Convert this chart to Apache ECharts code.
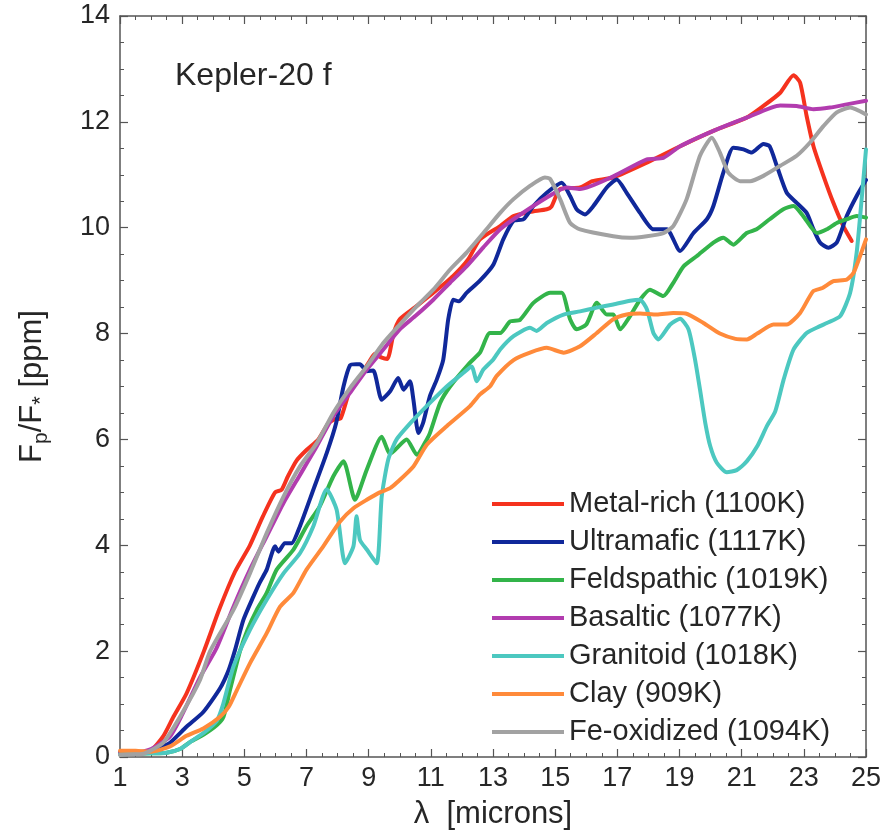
<!DOCTYPE html>
<html>
<head>
<meta charset="utf-8">
<script src="https://cdn.jsdelivr.net/npm/echarts@6/dist/echarts.min.js"></script>
<style>
  html, body { margin: 0; padding: 0; background: #fff; }
  #chart { width: 884px; height: 836px; }
</style>
</head>
<body>
<div id="chart"></div>
<script>
// Planet-to-star flux contrast spectra for Kepler-20 f, one [wavelength (µm), Fp/F* (ppm)] list per surface type
const seriesNames = [
  'Metal-rich (1100K)', 'Ultramafic (1117K)', 'Feldspathic (1019K)', 'Basaltic (1077K)',
  'Granitoid (1018K)', 'Clay (909K)', 'Fe-oxidized (1094K)'
];
const seriesColors = ['#f5321e', '#10289a', '#33b44a', '#b23caf', '#4cc8c0', '#ff8a3a', '#a2a2a2'];

const metalRich = [[1.0,0.08],[1.5,0.08],[2.0,0.13],[2.4,0.4],[2.72,0.76],[3.14,1.2],[3.7,2.0],[4.2,2.8],[4.7,3.5],[5.18,4.0],[5.6,4.55],[5.99,5.0],[6.2,5.05],[6.4,5.3],[6.68,5.6],[7.0,5.8],[7.38,6.0],[7.7,6.3],[7.9,6.38],[8.1,6.4],[8.4,6.94],[8.67,7.13],[9.0,7.45],[9.2,7.62],[9.4,7.55],[9.6,7.52],[9.8,8.0],[10.0,8.27],[10.5,8.5],[11.08,8.77],[11.72,9.09],[12.2,9.4],[12.58,9.78],[13.23,10.03],[13.66,10.22],[14.2,10.3],[14.73,10.35],[14.88,10.4],[15.16,10.73],[15.8,10.76],[16.2,10.88],[16.87,10.95],[17.95,11.23],[19.02,11.54],[20.09,11.83],[21.16,12.08],[21.7,12.3],[22.24,12.55],[22.67,12.88],[22.88,12.74],[23.09,12.11],[23.31,11.54],[23.63,10.98],[23.95,10.47],[24.27,10.03],[24.54,9.75]];

const ultramafic = [[1.0,0.08],[1.5,0.08],[2.0,0.12],[2.3,0.18],[2.61,0.27],[3.14,0.57],[3.68,0.85],[4.22,1.3],[4.5,1.65],[4.7,2.02],[4.97,2.59],[5.29,3.03],[5.5,3.3],[5.72,3.54],[5.99,3.98],[6.1,3.88],[6.3,4.04],[6.52,4.04],[6.79,4.36],[7.22,5.05],[7.65,5.74],[7.95,6.3],[8.19,7.0],[8.4,7.4],[8.6,7.42],[8.72,7.42],[8.94,7.29],[9.15,7.3],[9.42,6.75],[9.69,6.91],[9.95,7.16],[10.12,6.94],[10.33,7.1],[10.44,6.75],[10.6,6.12],[10.75,6.31],[10.97,6.82],[11.19,7.13],[11.4,7.51],[11.56,8.27],[11.72,8.64],[11.9,8.61],[12.15,8.77],[12.58,9.0],[13.01,9.3],[13.33,9.78],[13.66,10.13],[13.98,10.16],[14.3,10.41],[14.73,10.66],[15.21,10.85],[15.48,10.6],[15.69,10.35],[15.96,10.25],[16.23,10.41],[16.66,10.76],[16.98,10.91],[17.3,10.66],[17.73,10.28],[18.16,9.97],[18.59,9.97],[19.02,9.56],[19.45,9.9],[19.88,10.16],[20.09,10.41],[20.41,11.04],[20.73,11.51],[21.06,11.48],[21.32,11.42],[21.7,11.58],[21.9,11.54],[22.13,11.17],[22.45,10.66],[22.77,10.47],[23.09,10.28],[23.31,9.97],[23.52,9.72],[23.79,9.62],[24.06,9.72],[24.38,10.22],[24.7,10.6],[25.0,10.9]];

const feldspathic = [[1.0,0.05],[1.5,0.06],[2.0,0.07],[2.5,0.08],[2.93,0.15],[3.3,0.3],[3.68,0.42],[4.11,0.6],[4.33,0.76],[4.54,1.27],[4.86,2.0],[5.1,2.4],[5.4,2.78],[5.72,3.1],[6.04,3.54],[6.58,3.92],[7.0,4.36],[7.43,4.74],[7.86,5.3],[8.19,5.59],[8.56,4.86],[8.94,5.43],[9.42,6.05],[9.69,5.73],[10.22,6.0],[10.55,5.71],[10.87,6.0],[10.97,6.12],[11.3,6.69],[11.62,7.0],[12.26,7.45],[12.58,7.64],[12.9,8.01],[13.23,8.01],[13.55,8.23],[13.87,8.26],[14.3,8.58],[14.84,8.77],[15.21,8.77],[15.48,8.27],[15.69,8.08],[16.0,8.17],[16.34,8.58],[16.66,8.36],[16.87,8.36],[17.09,8.08],[17.41,8.33],[17.73,8.64],[18.05,8.83],[18.48,8.71],[18.8,8.96],[19.13,9.27],[19.55,9.46],[20.09,9.72],[20.41,9.81],[20.73,9.68],[21.16,9.9],[21.48,9.97],[21.9,10.16],[22.34,10.35],[22.67,10.41],[22.98,10.22],[23.42,9.9],[23.74,9.97],[24.06,10.09],[24.38,10.16],[24.7,10.22],[25.0,10.19]];

const basaltic = [[1.0,0.08],[1.5,0.08],[2.0,0.15],[2.61,0.39],[3.0,0.8],[3.57,1.5],[4.1,2.05],[4.65,2.84],[5.18,3.54],[5.72,4.17],[6.26,4.8],[6.79,5.33],[7.33,5.87],[7.86,6.44],[8.4,6.88],[8.94,7.32],[9.47,7.7],[10.0,8.08],[10.5,8.33],[11.08,8.64],[11.62,8.96],[12.15,9.27],[12.69,9.63],[13.23,9.97],[13.66,10.16],[14.73,10.57],[15.37,10.76],[15.8,10.73],[16.87,10.97],[17.95,11.29],[18.48,11.32],[19.02,11.54],[20.09,11.83],[21.16,12.08],[22.24,12.31],[22.77,12.3],[23.31,12.24],[23.84,12.27],[24.38,12.33],[25.0,12.4]];

const granitoid = [[1.0,0.05],[1.5,0.06],[2.0,0.07],[2.5,0.08],[2.93,0.15],[3.3,0.3],[3.68,0.45],[4.11,0.68],[4.32,1.0],[4.65,1.71],[5.18,2.4],[5.72,2.97],[6.26,3.47],[6.79,3.85],[7.22,4.36],[7.65,5.06],[7.97,4.67],[8.24,3.66],[8.51,3.98],[8.61,4.55],[8.72,4.1],[8.94,3.92],[9.26,3.66],[9.42,4.92],[9.63,5.62],[9.9,6.0],[10.44,6.37],[10.97,6.69],[11.51,7.0],[12.05,7.26],[12.31,7.38],[12.48,7.1],[12.69,7.32],[13.01,7.51],[13.23,7.7],[13.66,7.95],[14.19,8.11],[14.4,8.05],[14.73,8.2],[15.27,8.36],[15.8,8.42],[16.34,8.49],[16.87,8.55],[17.41,8.62],[17.73,8.64],[17.95,8.46],[18.16,8.01],[18.32,7.89],[18.7,8.17],[19.02,8.28],[19.29,8.08],[19.5,7.51],[19.66,6.94],[19.83,6.31],[19.99,5.87],[20.2,5.56],[20.52,5.38],[20.84,5.42],[21.17,5.59],[21.5,5.87],[21.81,6.25],[22.08,6.53],[22.35,7.13],[22.67,7.7],[23.09,8.01],[23.52,8.14],[23.74,8.2],[24.17,8.33],[24.49,8.77],[24.7,9.53],[24.86,10.54],[25.0,11.48]];

const clay = [[1.0,0.12],[1.5,0.12],[2.0,0.1],[2.61,0.2],[3.14,0.4],[3.68,0.54],[4.22,0.76],[4.5,0.95],[4.75,1.25],[5.18,1.77],[5.72,2.34],[6.15,2.84],[6.58,3.1],[7.0,3.54],[7.54,3.98],[8.08,4.45],[8.51,4.7],[8.94,4.86],[9.36,5.0],[9.69,5.08],[9.9,5.18],[10.44,5.49],[10.87,5.9],[11.51,6.25],[12.26,6.63],[12.58,6.85],[12.9,7.0],[13.12,7.2],[13.66,7.5],[14.19,7.64],[14.73,7.73],[15.27,7.64],[15.8,7.76],[16.34,8.01],[16.87,8.27],[17.3,8.36],[17.73,8.38],[18.27,8.36],[18.8,8.39],[19.2,8.38],[19.77,8.2],[20.3,8.0],[20.8,7.9],[21.17,7.89],[21.5,8.0],[22.02,8.17],[22.45,8.17],[22.88,8.39],[23.3,8.8],[23.6,8.86],[23.95,8.99],[24.38,9.02],[24.6,9.15],[24.8,9.45],[25.0,9.78]];

const feOxidized = [[1.0,0.04],[1.5,0.05],[1.8,0.07],[2.39,0.27],[3.0,0.83],[3.57,1.45],[3.9,2.0],[4.65,2.78],[5.18,3.47],[5.72,4.23],[6.26,4.92],[6.79,5.49],[7.33,5.93],[7.86,6.5],[8.4,6.97],[8.94,7.38],[9.47,7.82],[10.0,8.17],[10.55,8.52],[11.08,8.83],[11.62,9.21],[12.15,9.53],[12.69,9.9],[13.23,10.28],[13.66,10.54],[14.19,10.79],[14.67,10.95],[14.84,10.92],[15.16,10.54],[15.48,10.09],[15.8,9.97],[16.87,9.84],[17.41,9.81],[17.95,9.84],[18.48,9.9],[18.8,10.03],[19.23,10.54],[19.66,11.36],[20.04,11.7],[20.3,11.42],[20.57,11.04],[20.95,10.88],[21.27,10.88],[21.7,10.98],[22.24,11.17],[22.77,11.36],[23.2,11.61],[23.63,11.92],[24.06,12.18],[24.49,12.27],[25.0,12.14]];

const seriesData = [metalRich, ultramafic, feldspathic, basaltic, granitoid, clay, feOxidized];

const FONT = '"Liberation Sans", Arial, Helvetica, sans-serif';
const TEXT = '#262626';
const FRAME = '#555';

const chart = echarts.init(document.getElementById('chart'));

function frameAxis(extra) {
  return Object.assign({
    type: 'value',
    axisLine: { show: true, onZero: false, lineStyle: { color: FRAME, width: 1.5 } },
    axisTick: { show: true, inside: true, length: 8, lineStyle: { color: FRAME, width: 1.2 } },
    minorTick: { show: true, splitNumber: 4, length: 4, lineStyle: { color: FRAME, width: 1 } },
    splitLine: { show: false },
    minorSplitLine: { show: false }
  }, extra);
}

const xRange = { min: 1, max: 25, interval: 2 };
const yRange = { min: 0, max: 14, interval: 2 };

chart.setOption({
  backgroundColor: '#fff',
  animation: false,
  grid: { left: 120, right: 18, top: 16, bottom: 79, containLabel: false, outerBoundsMode: 'none' },
  xAxis: [
    frameAxis(Object.assign({
      position: 'bottom',
      name: 'λ  [microns]',
      nameLocation: 'middle',
      nameGap: 42,
      nameTextStyle: { fontFamily: FONT, fontSize: 31, color: TEXT },
      axisLabel: { fontFamily: FONT, fontSize: 27, color: TEXT, margin: 8 }
    }, xRange)),
    frameAxis(Object.assign({ position: 'top', axisLabel: { show: false } }, xRange))
  ],
  yAxis: [
    frameAxis(Object.assign({
      position: 'left',
      name: '{n|F}{s|p}{n|/F}{a|*}{n| [ppm]}',
      nameLocation: 'middle',
      nameGap: 68,
      nameTextStyle: {
        rich: {
          n: { fontFamily: FONT, fontSize: 31, color: TEXT, lineHeight: 40, verticalAlign: 'middle' },
          s: { fontFamily: FONT, fontSize: 21, color: TEXT, lineHeight: 20, verticalAlign: 'bottom' },
          a: { fontFamily: FONT, fontSize: 22, color: TEXT, lineHeight: 14, verticalAlign: 'bottom' }
        }
      },
      axisLabel: { fontFamily: FONT, fontSize: 27, color: TEXT, margin: 10 }
    }, yRange)),
    frameAxis(Object.assign({ position: 'right', axisLabel: { show: false } }, yRange))
  ],
  legend: {
    orient: 'vertical',
    left: 487,
    top: 484,
    icon: 'rect',
    itemWidth: 72,
    itemHeight: 4,
    itemGap: 8,
    data: seriesNames,
    textStyle: { fontFamily: FONT, fontSize: 29, color: TEXT, lineHeight: 30, padding: [0, 0, 0, 0] }
  },
  graphic: [{
    type: 'text',
    x: 175,
    y: 76,
    style: { text: 'Kepler-20 f', font: '32px ' + FONT, fill: TEXT, textVerticalAlign: 'middle' }
  }],
  series: seriesNames.map((name, i) => ({
    name: name,
    type: 'line',
    xAxisIndex: 0,
    yAxisIndex: 0,
    data: seriesData[i],
    showSymbol: false,
    smooth: 0.2,
    lineStyle: { color: seriesColors[i], width: 4, join: 'round', cap: 'round' },
    itemStyle: { color: seriesColors[i] },
    emphasis: { disabled: true },
    z: 2 + i
  }))
});
</script>
</body>
</html>
